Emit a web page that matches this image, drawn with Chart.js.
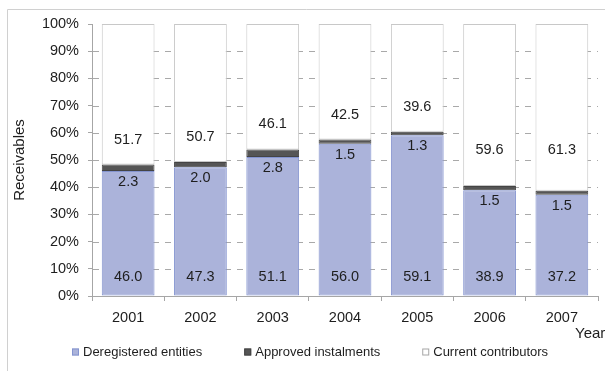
<!DOCTYPE html>
<html>
<head>
<meta charset="utf-8">
<script src="https://cdn.jsdelivr.net/npm/chart.js@4/dist/chart.umd.min.js"></script>
<style>
  html, body { margin: 0; padding: 0; background: #fff; }
  canvas { display: block; }
</style>
</head>
<body>
<canvas id="receivables" width="605" height="371"></canvas>
<script>
var years = ['2001', '2002', '2003', '2004', '2005', '2006', '2007'];
var deregistered = [46.0, 47.3, 51.1, 56.0, 59.1, 38.9, 37.2];
var instalments = [2.3, 2.0, 2.8, 1.5, 1.3, 1.5, 1.5];
var contributors = [51.7, 50.7, 46.1, 42.5, 39.6, 59.6, 61.3];

var FONT = '"Liberation Sans", Arial, sans-serif';
var TEXT = '#1e1e1e';
var AXIS = '#a6a6a6';
var GRID = '#a9a9a9';

Chart.defaults.font.family = FONT;
Chart.defaults.color = TEXT;

// frame, dashed gridlines, value labels, legend row and the "Year" caption
var decorations = {
    id: 'decorations',
    beforeDraw: function(chart) {
        var ctx = chart.ctx;
        ctx.save();
        ctx.strokeStyle = '#d0d0d0';
        ctx.lineWidth = 1;
        ctx.beginPath();
        ctx.moveTo(7.5, chart.height);
        ctx.lineTo(7.5, 9.5);
        ctx.lineTo(chart.width, 9.5);
        ctx.stroke();
        ctx.restore();
    },
    beforeDatasetsDraw: function(chart) {
        var ctx = chart.ctx;
        var area = chart.chartArea;
        var yScale = chart.scales.y;
        ctx.save();
        ctx.strokeStyle = GRID;
        ctx.lineWidth = 1;
        ctx.setLineDash([6, 6]);
        yScale.ticks.forEach(function(t) {
            if (t.value === 0 || t.value === 100) return;
            var py = Math.round(yScale.getPixelForValue(t.value)) + 0.5;
            ctx.beginPath();
            ctx.moveTo(area.left + 1, py);
            ctx.lineTo(area.right, py);
            ctx.stroke();
        });
        ctx.restore();
    },
    afterDatasetsDraw: function(chart) {
        var ctx = chart.ctx;
        var yScale = chart.scales.y;
        ctx.save();
        ctx.font = '14.5px ' + FONT;
        ctx.fillStyle = TEXT;
        ctx.textAlign = 'center';
        ctx.textBaseline = 'middle';
        chart.getDatasetMeta(0).data.forEach(function(bar, i) {
            ctx.fillText(deregistered[i].toFixed(1), bar.x, bar.base - 19);
        });
        chart.getDatasetMeta(1).data.forEach(function(bar, i) {
            ctx.fillText(instalments[i].toFixed(1), bar.x, bar.base + 11);
        });
        chart.getDatasetMeta(2).data.forEach(function(bar, i) {
            var y = Math.min(bar.base - 25, yScale.getPixelForValue(53.5));
            ctx.fillText(contributors[i].toFixed(1), bar.x, y);
        });
        ctx.restore();
    },
    afterDraw: function(chart) {
        var ctx = chart.ctx;
        ctx.save();
        ctx.font = '13px ' + FONT;
        ctx.textBaseline = 'middle';
        ctx.textAlign = 'left';
        var x = 72, y = 352;
        chart.data.datasets.forEach(function(ds) {
            ctx.fillStyle = ds.backgroundColor;
            ctx.fillRect(x, y - 3.5, 7, 7);
            ctx.strokeStyle = ds.legendBorder;
            ctx.lineWidth = 1;
            ctx.strokeRect(x + 0.5, y - 3, 6, 6);
            ctx.fillStyle = TEXT;
            ctx.fillText(ds.label, x + 11, y);
            x += 11 + ctx.measureText(ds.label).width + 42;
        });
        ctx.font = '15px ' + FONT;
        ctx.fillText('Year', 575, 334);
        ctx.restore();
    }
};

var ctx = document.getElementById('receivables');
var receivablesChart = new Chart(ctx, {
    type: 'bar',
    data: {
        labels: years,
        datasets: [{
            label: 'Deregistered entities',
            data: deregistered,
            backgroundColor: '#abb3da',
            borderColor: '#8494d0',
            legendBorder: '#8494d0',
            borderWidth: 1,
            borderSkipped: false
        }, {
            label: 'Approved instalments',
            data: instalments,
            backgroundColor: '#555555',
            borderColor: '#444444',
            legendBorder: '#444444',
            borderWidth: 1,
            borderSkipped: false
        }, {
            label: 'Current contributors',
            data: contributors,
            backgroundColor: '#ffffff',
            borderColor: '#c8c8c8',
            legendBorder: '#a6a6a6',
            borderWidth: 1,
            borderSkipped: false
        }]
    },
    options: {
        responsive: false,
        animation: false,
        barPercentage: 0.73,
        categoryPercentage: 1,
        layout: { padding: { top: 24, right: 7, left: 0, bottom: 0 } },
        plugins: {
            legend: { display: false },
            tooltip: { enabled: false }
        },
        scales: {
            x: {
                stacked: true,
                grid: {
                    display: true,
                    offset: true,
                    drawOnChartArea: false,
                    drawTicks: true,
                    tickLength: 5,
                    tickColor: AXIS
                },
                border: { display: true, color: AXIS },
                ticks: { color: TEXT, font: { size: 14.5 }, padding: 8, maxRotation: 0 },
                afterFit: function(scale) { scale.height = 75; }
            },
            y: {
                stacked: true,
                min: 0,
                max: 100,
                ticks: {
                    stepSize: 10,
                    padding: 9,
                    color: TEXT,
                    font: { size: 14.5 },
                    callback: function(v) { return v + '%'; }
                },
                grid: {
                    drawOnChartArea: false,
                    tickColor: AXIS,
                    tickLength: 4
                },
                border: { display: true, color: AXIS },
                title: {
                    display: true,
                    text: 'Receivables',
                    color: TEXT,
                    font: { size: 15 },
                    padding: { top: 11, bottom: 0 }
                },
                afterFit: function(scale) { scale.width = 92; }
            }
        }
    },
    plugins: [decorations]
});
</script>
</body>
</html>
